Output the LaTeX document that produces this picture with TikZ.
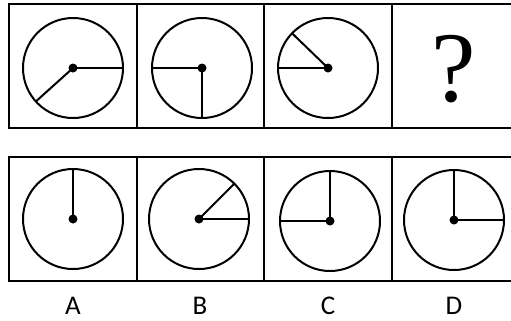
\documentclass[tikz,border=0pt]{standalone}
\usepackage{fontspec}
\setmainfont{Carlito}
\newfontfamily\qfont{Liberation Serif}
\usetikzlibrary{positioning}

\begin{document}
\begin{tikzpicture}[
        x=1bp, y=-1bp,
        panel/.style={draw, line width=2bp},
        face/.style={draw, circle, line width=2bp, minimum size=100bp, inner sep=0pt, outer sep=0pt},
        hand/.style={line width=2bp},
        pivot/.style={fill, circle, minimum size=9bp, inner sep=0pt},
        choice/.style={anchor=base, inner sep=1pt, font=\fontsize{27bp}{30bp}\selectfont},
        qmark/.style={font=\qfont\fontsize{100bp}{100bp}\selectfont, inner sep=0pt}
    ]
    \useasboundingbox (0,0) rectangle (511,320);
    \clip (0,0) rectangle (511,320);

    % panels, top row and answer row
    \foreach \l/\r in {9/137,137/264,264/392,392/520} {
        \draw[panel] (\l,4) rectangle (\r,128);
        \draw[panel] (\l,157) rectangle (\r,281);
    }

    % question row
    \node[face] (F1) at (73,68) {};
    \node[face] (F2) at (202,68) {};
    \node[face] (F3) at (328,68) {};
    \node[qmark] (Q) at (454,69) {?};

    \draw[hand] (F1.center) -- (F1.222);
    \draw[hand] (F1.center) -- (F1.0);
    \draw[hand] (F2.center) -- (F2.180);
    \draw[hand] (F2.center) -- (F2.270);
    \draw[hand] (F3.center) -- (F3.180);
    \draw[hand] (F3.center) -- (F3.136);

    % answer row
    \node[face] (FA) at (73,219) {};
    \node[face] (FB) at (199,219) {};
    \node[face] (FC) at (330,221) {};
    \node[face] (FD) at (454,220) {};

    \draw[hand] (FA.center) -- (FA.90);
    \draw[hand] (FB.center) -- (FB.0);
    \draw[hand] (FB.center) -- (FB.45);
    \draw[hand] (FC.center) -- (FC.90);
    \draw[hand] (FC.center) -- (FC.180);
    \draw[hand] (FD.center) -- (FD.90);
    \draw[hand] (FD.center) -- (FD.0);

    \foreach \f in {F1,F2,F3,FA,FB,FC,FD}
        \node[pivot] (P\f) at (\f.center) {};

    \node[choice] (LA) at (73,314) {A};
    \node[choice] (LB) at (200,314) {B};
    \node[choice] (LC) at (328,314) {C};
    \node[choice] (LD) at (454,314) {D};

    \end{tikzpicture}
\end{document}
